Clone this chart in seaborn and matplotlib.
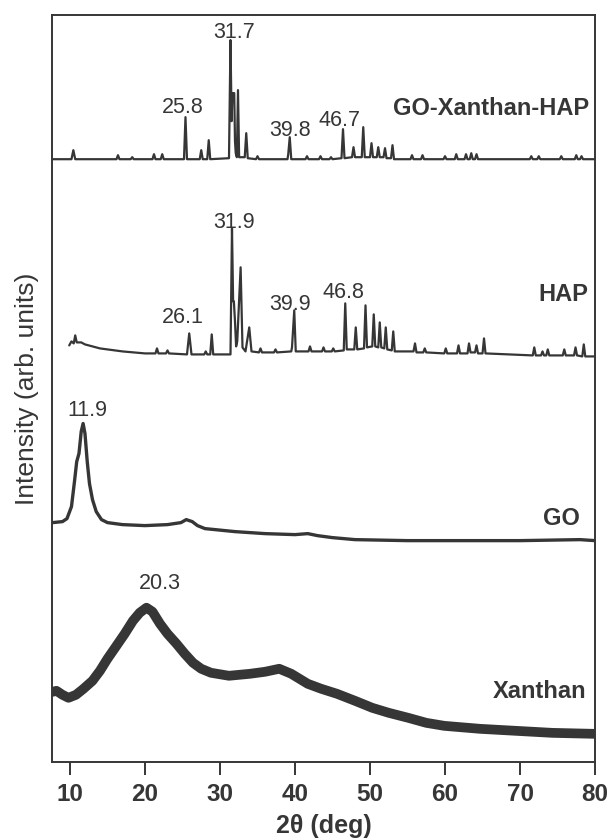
import pandas as pd
import matplotlib.pyplot as plt
import seaborn as sns

# ---- data (2theta in deg, intensity in arb. units) ----
xanthan_2theta = [7.7, 8.2, 9.0, 9.8, 10.8, 11.8, 13.0, 14.0, 15.0, 16.2, 17.3, 18.4, 19.3,
                  20.2, 21.0, 22.0, 23.0, 24.2, 25.3, 26.4, 27.5, 28.8, 31.2, 34.0, 36.0,
                  37.9, 39.5, 41.7, 43.5, 45.6, 48.0, 50.3, 52.5, 55.1, 57.5, 59.9, 64.7,
                  69.5, 74.3, 80.0]
xanthan_int = [70, 71, 67, 64, 67, 73, 81, 91, 103, 116, 128, 141, 149,
               154, 150, 138, 128, 118, 108, 99, 93, 89, 86, 88, 90,
               93, 88, 78, 73, 68, 61, 54, 49, 44, 39, 36, 33,
               31, 29, 28]

go_2theta = [7.7, 9.0, 9.6, 10.2, 10.6, 10.9, 11.2, 11.5, 11.75, 12.0, 12.3, 12.6, 13.0,
             13.5, 14.2, 15.0, 17.0, 20.0, 23.0, 24.8, 25.5, 26.3, 27.0, 28.0, 32.0, 36.0,
             40.0, 41.7, 43.0, 45.0, 48.0, 55.0, 60.0, 70.0, 78.0, 80.0]
go_int = [39, 40, 43, 55, 80, 100, 108, 130, 138, 128, 100, 78, 62,
          50, 42, 39, 37, 36, 37, 39, 42, 40, 36, 33, 30, 28,
          27, 28, 26, 24, 22, 21, 21, 21, 22, 21]

hap_2theta = [9.9, 10.2, 10.5, 10.7, 10.9, 11.5, 12.0, 13.0, 14.0, 15.0, 16.0, 17.0, 18.5,
              20.0, 21.4, 21.6, 21.8, 22.8, 23.0, 23.2, 25.6, 25.9, 26.2, 27.9, 28.1, 28.3,
              28.7, 28.9, 29.1, 31.4, 31.6, 31.75, 31.85, 32.0, 32.15, 32.3, 32.75, 33.0,
              33.4, 33.9, 34.2, 35.2, 35.4, 35.6, 37.2, 37.4, 37.6, 39.5, 39.6, 39.9, 40.1,
              41.8, 42.0, 42.2, 43.6, 43.8, 44.0, 44.9, 45.1, 45.3, 46.5, 46.7, 46.9, 47.9,
              48.1, 48.3, 49.2, 49.4, 49.6, 50.3, 50.5, 50.7, 51.1, 51.3, 51.5, 51.9, 52.1,
              52.3, 52.9, 53.1, 53.3, 55.8, 56.0, 56.2, 57.1, 57.3, 57.5, 59.9, 60.1, 60.3,
              61.6, 61.8, 62.0, 63.0, 63.2, 63.4, 64.0, 64.2, 64.4, 65.0, 65.2, 65.4, 71.7,
              71.9, 72.1, 72.8, 73.0, 73.2, 73.5, 73.7, 73.9, 75.7, 75.9, 76.1, 77.2, 77.4,
              77.6, 78.3, 78.5, 78.7, 80.0]
hap_int = [36, 40, 38, 46, 39, 39, 37, 35, 33, 32, 31, 30, 29,
           28, 28, 33, 28, 28, 31, 28, 27, 48, 27, 27, 30, 27,
           27, 47, 27, 27, 153, 80, 80, 60, 35, 40, 114, 34,
           30, 54, 30, 29, 33, 29, 29, 32, 29, 30, 34, 71, 30,
           30, 35, 30, 30, 34, 30, 30, 33, 30, 31, 78, 32, 32,
           54, 32, 33, 76, 34, 35, 67, 35, 34, 59, 34, 33, 54,
           32, 31, 50, 30, 30, 38, 29, 29, 33, 29, 28, 33, 28,
           28, 36, 28, 28, 38, 29, 29, 36, 28, 28, 43, 28, 26,
           34, 26, 26, 30, 26, 26, 32, 26, 26, 32, 26, 26, 34,
           26, 25, 37, 25, 25]

comp_2theta = [7.7, 10.2, 10.45, 10.7, 16.2, 16.4, 16.6, 18.1, 18.3, 18.5, 21.0, 21.2, 21.4,
               22.1, 22.3, 22.5, 25.2, 25.4, 25.6, 27.3, 27.5, 27.7, 28.3, 28.5, 28.7, 31.2,
               31.4, 31.55, 31.65, 31.9, 32.0, 32.1, 32.25, 32.4, 32.55, 33.3, 33.5, 33.7,
               34.8, 35.0, 35.2, 39.0, 39.1, 39.3, 39.5, 41.4, 41.6, 41.8, 43.2, 43.4, 43.6,
               44.6, 44.8, 45.0, 46.2, 46.4, 46.6, 47.6, 47.8, 48.0, 48.9, 49.1, 49.3, 50.0,
               50.2, 50.4, 50.9, 51.1, 51.3, 51.8, 52.0, 52.2, 52.8, 53.0, 53.2, 55.4, 55.6,
               55.8, 56.8, 57.0, 57.2, 59.8, 60.0, 60.2, 61.3, 61.5, 61.7, 62.6, 62.8, 63.0,
               63.3, 63.5, 63.7, 64.0, 64.2, 64.4, 71.3, 71.5, 71.7, 72.3, 72.5, 72.7, 75.3,
               75.5, 75.7, 77.3, 77.5, 77.7, 78.0, 78.2, 78.4, 80.0]
comp_int = [22, 22, 31, 22, 22, 26, 22, 22, 24, 22, 22, 27, 22,
            22, 27, 22, 22, 64, 22, 22, 31, 22, 22, 41, 22, 23,
            141, 60, 88, 88, 40, 28, 24, 91, 24, 24, 48, 23,
            22, 25, 22, 22, 27, 44, 22, 22, 25, 22, 22, 25, 22,
            22, 24, 22, 23, 52, 23, 24, 34, 24, 24, 54, 24, 24,
            38, 24, 24, 34, 24, 24, 33, 23, 23, 36, 22, 22, 26,
            22, 22, 26, 22, 22, 25, 22, 22, 27, 22, 22, 27, 22,
            22, 28, 22, 22, 27, 22, 22, 25, 22, 22, 25, 22, 22,
            25, 22, 22, 26, 22, 22, 25, 22, 22]

sample_names = ["Xanthan", "GO", "HAP", "GO-Xanthan-HAP"]
peak_labels = {
    "Xanthan": ["20.3"],
    "GO": ["11.9"],
    "HAP": ["26.1", "31.9", "39.9", "46.8"],
    "GO-Xanthan-HAP": ["25.8", "31.7", "39.8", "46.7"],
}
x_ticks = [10, 20, 30, 40, 50, 60, 70, 80]

# ---- layout ----
offsets = {"Xanthan": 0, "GO": 200, "HAP": 380, "GO-Xanthan-HAP": 580}
widths = {"Xanthan": 7.0, "GO": 2.4, "HAP": 1.6, "GO-Xanthan-HAP": 1.6}
# label centres (2theta, stacked height)
peak_label_pos = {
    "Xanthan": [(22.0, 181)],
    "GO": [(12.3, 353)],
    "HAP": [(25.1, 446), (31.9, 541), (39.3, 459), (46.5, 471)],
    "GO-Xanthan-HAP": [(25.1, 656), (31.9, 731), (39.3, 633), (45.9, 643)],
}
name_pos = {"Xanthan": (78.9, 70), "GO": (78.0, 243), "HAP": (79.1, 467),
            "GO-Xanthan-HAP": (79.2, 653)}

series = {
    "Xanthan": (xanthan_2theta, xanthan_int),
    "GO": (go_2theta, go_int),
    "HAP": (hap_2theta, hap_int),
    "GO-Xanthan-HAP": (comp_2theta, comp_int),
}
frames = []
for name in sample_names:
    tt, inten = series[name]
    frames.append(pd.DataFrame({"two_theta": tt, "intensity": inten, "sample": name}))
data = pd.concat(frames, ignore_index=True)
data["stacked"] = data["intensity"] + data["sample"].map(offsets)

sns.set_theme(style="ticks")
plt.rcParams["font.family"] = ["Liberation Sans", "DejaVu Sans"]

ink = "#363636"
fig = plt.figure(figsize=(6.14, 8.4), dpi=100)
ax = fig.add_axes([0.0855, 0.0930, 0.8836, 0.8891])

for name in sample_names:
    sub = data[data["sample"] == name]
    sns.lineplot(data=sub, x="two_theta", y="stacked", ax=ax, color=ink,
                 lw=widths[name], sort=False, estimator=None)
    for txt, (px, py) in zip(peak_labels[name], peak_label_pos[name]):
        ax.text(px, py, txt, ha="center", va="center_baseline", fontsize=15.5, color=ink)
    nx, ny = name_pos[name]
    ax.text(nx, ny, name, ha="right", va="center", fontsize=17,
            fontweight="bold", color=ink)

ax.set_xlim(7.67, 80)
ax.set_ylim(0, 746)
ax.set_xticks(x_ticks)
ax.set_xticklabels([str(t) for t in x_ticks], fontsize=17.5, fontweight="bold", color=ink)
ax.set_yticks([])
ax.tick_params(axis="x", which="major", direction="out", length=9, width=1.4,
               color=ink, pad=6, bottom=True, top=False)
for sp in ax.spines.values():
    sp.set_visible(True)
    sp.set_color(ink)
    sp.set_linewidth(1.4)
ax.set_xlabel("2\u03b8 (deg)", fontsize=18, fontweight="bold", color=ink, labelpad=6)
ax.set_ylabel("Intensity (arb. units)", fontsize=19, color=ink, labelpad=10)

fig.savefig("out.png", dpi=100)
